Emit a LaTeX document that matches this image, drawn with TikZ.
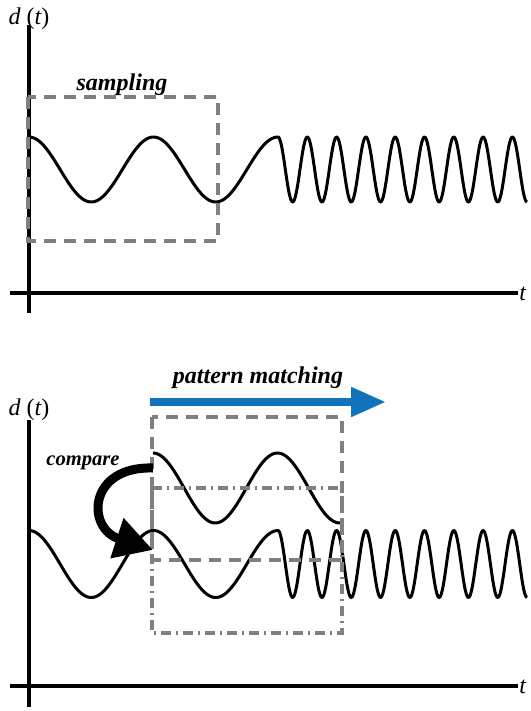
\documentclass[tikz,border=0pt]{standalone}
\usepackage{fontspec}
\setmainfont{Liberation Serif}
\usepackage{tikz}
\usetikzlibrary{arrows.meta,positioning}
\definecolor{pmblue}{HTML}{1173BB}
\tikzset{
  axis/.style={line width=2pt, black},
  wave/.style={line width=1.5pt, black, line join=round},
  samplebox/.style={draw=black!50, line width=1.6pt, dash pattern=on 6pt off 4pt},
  matchbox/.style={draw=black!50, line width=1.6pt, dash pattern=on 5pt off 2.5pt on 1pt off 2.5pt},
  pmarrow/.style={draw=pmblue, line width=4pt, -{Triangle[length=17.5pt,width=14pt]}},
  cmparrow/.style={draw=black, line width=4.5pt, -{Triangle[length=19pt,width=20pt]}},
  axlbl/.style={font=\fontsize{12}{14}\selectfont\itshape, inner sep=0pt},
  tag/.style={font=\fontsize{12}{14}\selectfont\bfseries\itshape, inner sep=0pt}
}
\begin{document}
\begin{tikzpicture}[x=0.5pt,y=-0.5pt]
\useasboundingbox (0,0) rectangle (530,711);
% top: axes
\draw[axis] (29,25) -- (29,313);
\draw[axis] (10,293) -- (518,293);
\node[axlbl] (dtop) at (29,19) {d \upshape(\itshape t\upshape)};
\node[axlbl, anchor=west] (ttop) at (519,294) {t};
% top: signal
\draw[wave] plot[domain=29:278, samples=120, smooth] (\x,{169.5-32.5*cos((\x-29)/124.5*360)})
  -- plot[domain=278:527, samples=300, smooth] (\x,{169.5-32.5*cos((\x-278)/29.3*360)});
% top: sampling window
\draw[samplebox] (28,97) rectangle (218,241);
\node[tag] (sampling) at (122,85) {sampling};
% bottom: axes
\draw[axis] (29,420) -- (29,707);
\draw[axis] (10,686) -- (518,686);
\node[axlbl] (dbot) at (29,410) {d \upshape(\itshape t\upshape)};
\node[axlbl, anchor=west] (tbot) at (519,687) {t};
% bottom: signal and sampled copy
\draw[wave] plot[domain=29:278, samples=120, smooth] (\x,{564-33.5*cos((\x-29)/124.5*360)})
  -- plot[domain=278:527, samples=300, smooth] (\x,{564-33.5*cos((\x-278)/29.3*360)});
\draw[wave] plot[domain=153:340, samples=100, smooth] (\x,{488-35*cos((\x-153)/124.5*360)});
% bottom: windows
\draw[samplebox] (152,417) rectangle (342,560);
\draw[matchbox] (152,488) rectangle (342,633);
% pattern matching arrow
\coordinate (pmstart) at (150,402);
\coordinate (pmend) at (386,402);
\draw[pmarrow] (pmstart) -- (pmend);
\node[tag] (pm) at (258,378) {pattern matching};
% compare arrow
\coordinate (cmpstart) at (153,468);
\coordinate (cmpend) at (153,550);
\draw[cmparrow] (cmpstart) .. controls (88,466) and (86,528) .. (cmpend);
\node[tag, font=\fontsize{10.3}{12}\selectfont\bfseries\itshape] (cmp) at (83,463) {compare};
\end{tikzpicture}
\end{document}
